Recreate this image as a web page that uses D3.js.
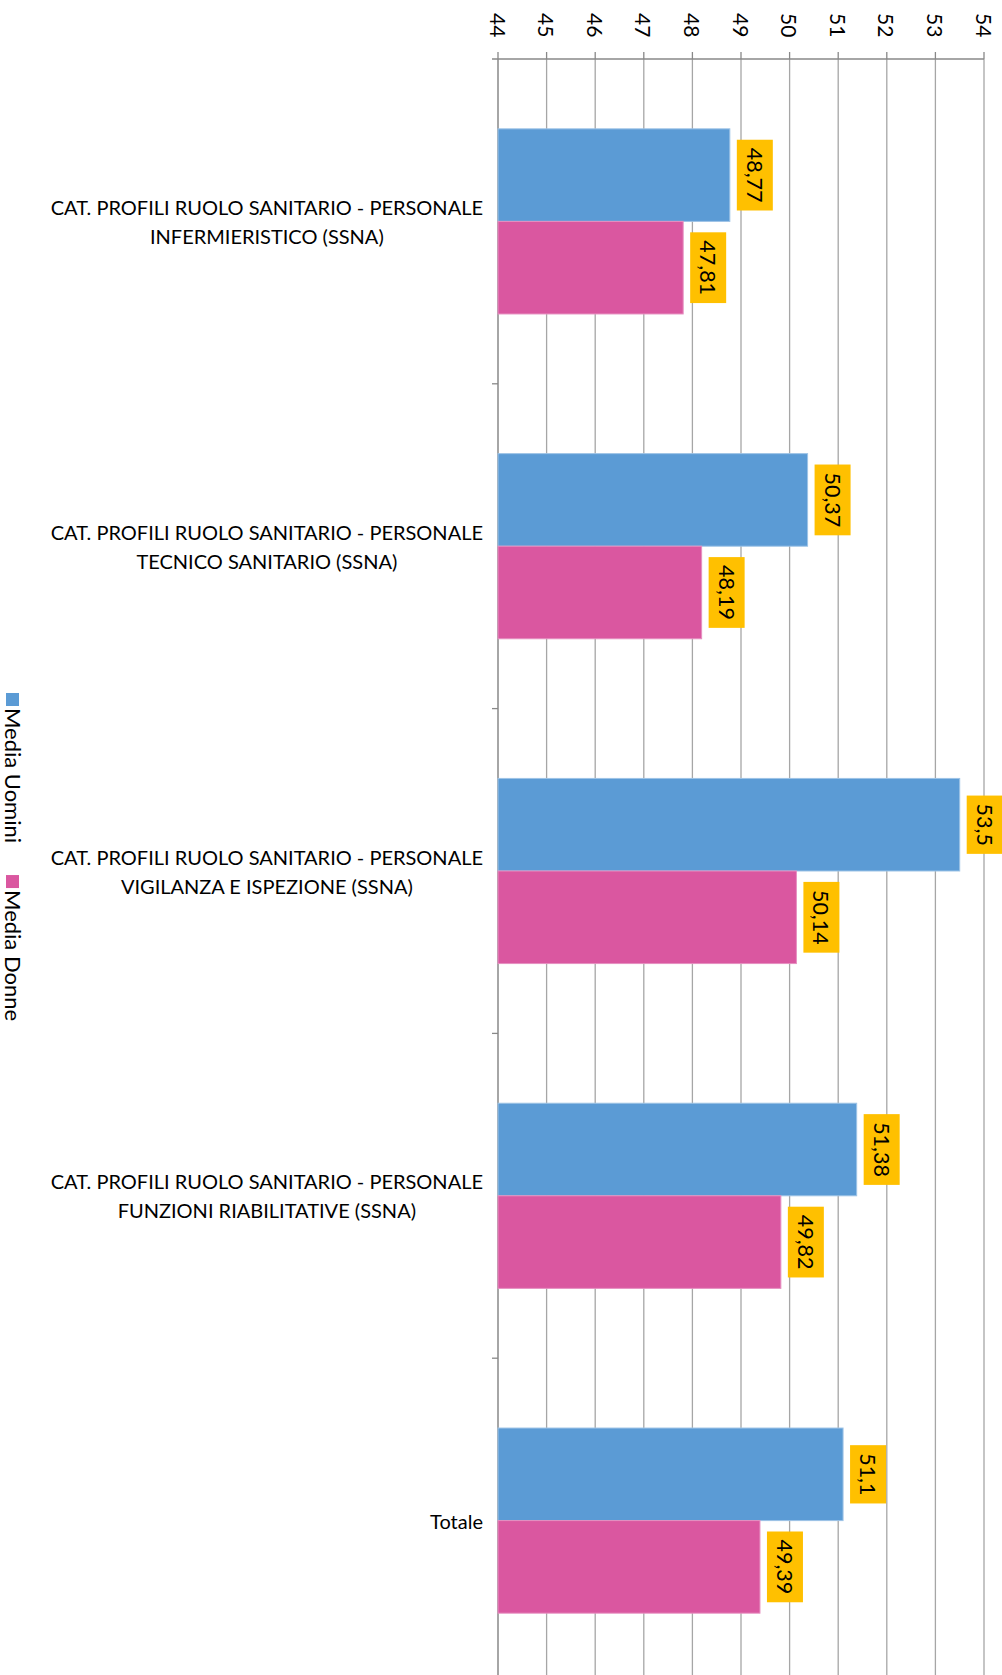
<!DOCTYPE html>
<html><head><meta charset="utf-8">
<script src="https://cdn.jsdelivr.net/npm/d3@7"></script>
<style>
html,body{margin:0;padding:0;background:#fff;}
svg{display:block;}
text{font-family:Lato,"Open Sans",sans-serif;fill:#000;}
</style></head>
<body>
<svg id="c" width="1002" height="1675"></svg>
<script>
const categories = [
  ["CAT. PROFILI RUOLO SANITARIO - PERSONALE","INFERMIERISTICO (SSNA)"],
  ["CAT. PROFILI RUOLO SANITARIO - PERSONALE","TECNICO SANITARIO (SSNA)"],
  ["CAT. PROFILI RUOLO SANITARIO - PERSONALE","VIGILANZA E ISPEZIONE (SSNA)"],
  ["CAT. PROFILI RUOLO SANITARIO - PERSONALE","FUNZIONI RIABILITATIVE (SSNA)"],
  ["Totale"]
];
const seriesNames = ["Media Uomini","Media Donne"];
const mediaUomini = [48.77, 50.37, 53.5, 51.38, 51.1];
const mediaDonne  = [47.81, 48.19, 50.14, 49.82, 49.39];
const tickValues = [44,45,46,47,48,49,50,51,52,53,54];
const colors = ["#5B9BD5","#DA57A0"];
const borderColors = ["#9DC3E6","#E68FC0"];

(function(){
const svg = d3.select("#c");
const pLeft = 498, pRight = 984, pTop = 59, pBottom = 1683;
const FS = 20;

const x = d3.scaleLinear().domain([44,54]).range([pLeft,pRight]);
const y = d3.scaleBand().domain(d3.range(categories.length)).range([pTop,pBottom]).paddingInner(0.43).paddingOuter(0.215);
const ySub = d3.scaleBand().domain([0,1]).range([0,y.bandwidth()]);
const yCat = d3.scaleBand().domain(d3.range(categories.length)).range([pTop,pBottom]);

// grid lines
svg.append("g").selectAll("line").data(tickValues.slice(1)).join("line")
  .attr("x1",d=>x(d)).attr("x2",d=>x(d)).attr("y1",pTop).attr("y2",1675)
  .attr("stroke","#A6A6A6").attr("stroke-width",1.3);

// top axis
const ax = svg.append("g");
ax.append("line").attr("x1",pLeft-6).attr("x2",pRight).attr("y1",pTop).attr("y2",pTop).attr("stroke","#888").attr("stroke-width",1.5);
ax.selectAll("line.t").data(tickValues).join("line").attr("class","t")
  .attr("x1",d=>x(d)).attr("x2",d=>x(d)).attr("y1",pTop-7).attr("y2",pTop).attr("stroke","#888").attr("stroke-width",1.3);
ax.selectAll("text").data(tickValues).join("text")
  .attr("transform",d=>`translate(${x(d)},13) rotate(90)`)
  .attr("text-anchor","start").attr("dominant-baseline","central")
  .attr("font-size",FS+1).text(d=>d);

// left axis
const la = svg.append("g");
la.append("line").attr("x1",pLeft).attr("x2",pLeft).attr("y1",pTop).attr("y2",1675).attr("stroke","#888").attr("stroke-width",1.5);
la.selectAll("line.t").data(d3.range(1,categories.length)).join("line").attr("class","t")
  .attr("x1",pLeft-6).attr("x2",pLeft).attr("y1",d=>yCat(d)).attr("y2",d=>yCat(d)).attr("stroke","#888").attr("stroke-width",1.3);

// category labels
const lineH = 29;
categories.forEach((lines,i)=>{
  const cy = yCat(i)+yCat.bandwidth()/2;
  const g = svg.append("g");
  const texts = lines.map((s,j)=> g.append("text").attr("font-size",FS)
     .attr("y", cy + (j-(lines.length-1)/2)*lineH).attr("dominant-baseline","central").text(s));
  const w = d3.max(texts,t=>t.node().getComputedTextLength());
  const cx = 483 - w/2;
  texts.forEach(t=>t.attr("x",cx).attr("text-anchor","middle"));
});

// bars
const series = [mediaUomini, mediaDonne];
series.forEach((vals,s)=>{
  const g = svg.append("g");
  g.selectAll("rect").data(vals).join("rect")
    .attr("x",pLeft).attr("y",(d,i)=>y(i)+ySub(s))
    .attr("width",d=>x(d)-pLeft).attr("height",ySub.bandwidth())
    .attr("fill",colors[s]).attr("stroke",borderColors[s]).attr("stroke-width",1);
  vals.forEach((v,i)=>{
    const cyc = y(i)+ySub(s)+ySub.bandwidth()/2;
    const lg = svg.append("g");
    const label = String(v).replace(".",",");
    const bw = 36;
    const t = lg.append("text").attr("font-size",FS+1.5).attr("text-anchor","middle")
      .attr("dominant-baseline","central").text(label);
    const len = t.node().getComputedTextLength();
    const bh = len + 16;
    const bx = x(v)+7;
    lg.insert("rect","text").attr("x",bx).attr("y",cyc-bh/2).attr("width",bw).attr("height",bh).attr("fill","#FFC000");
    t.attr("transform",`translate(${bx+bw/2},${cyc}) rotate(90)`);
  });
});

// legend
const leg = svg.append("g");
let ly = 693;
seriesNames.forEach((n,i)=>{
  leg.append("rect").attr("x",6).attr("y",ly).attr("width",13).attr("height",13).attr("fill",colors[i]);
  const t = leg.append("text").attr("font-size",22).attr("transform",`translate(13,${ly+15}) rotate(90)`)
    .attr("text-anchor","start").attr("dominant-baseline","central").text(n);
  ly += 15 + t.node().getComputedTextLength() + 32;
});
})();
</script>
</body></html>
